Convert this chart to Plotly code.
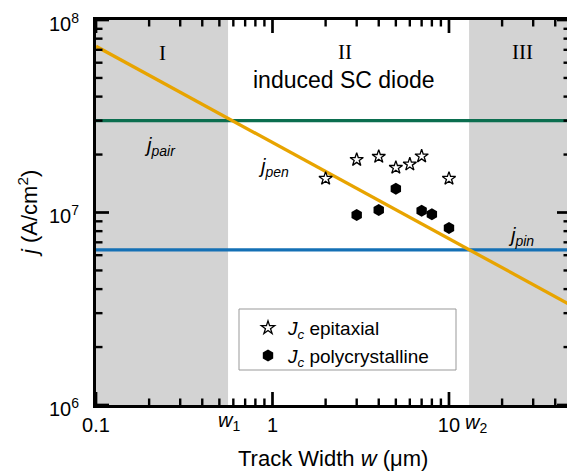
import numpy as np
import plotly.graph_objects as go

# ---- data ----
w1 = 0.56
w2 = 13.0
x_min, x_max = 0.1, 48.5
j_pair = 3.0e7
j_pin = 6.4e6
pen_w = [0.1, 48.5]
pen_j = [7.3e7, 3.32e6]

epi_w = [2, 3, 4, 5, 6, 7, 10]
epi_j = [1.50e7, 1.88e7, 1.95e7, 1.71e7, 1.78e7, 1.96e7, 1.50e7]

poly_w = [3, 4, 5, 7, 8, 10]
poly_j = [9.7e6, 1.03e7, 1.33e7, 1.02e7, 9.8e6, 8.3e6]

x_tickvals = [0.1, 1, 10]
x_ticktext = ["0.1", "1", "10"]
y_tickvals = [1e6, 1e7, 1e8]
y_ticktext = ["10<sup>6</sup>", "10<sup>7</sup>", "10<sup>8</sup>"]

x_minor = [m * d for d in (0.1, 1, 10) for m in range(2, 10) if m * d < x_max]
y_minor = [m * d for d in (1e6, 1e7) for m in range(2, 10)]

FONT = "Liberation Sans, Arial, sans-serif"
SERIF = "Liberation Serif, Times New Roman, serif"
GRAY = "#d3d3d3"
ORANGE = "#E8A400"
GREEN = "#0B6E4F"
BLUE = "#1470B5"

fig = go.Figure()

# shaded regions I and III
for xa, xb in [(x_min, w1), (w2, x_max)]:
    fig.add_trace(go.Scatter(x=[xa, xb, xb, xa, xa], y=[1e6, 1e6, 1e8, 1e8, 1e6],
                             fill="toself", fillcolor=GRAY, line=dict(width=0),
                             mode="lines", showlegend=False, hoverinfo="skip"))

fig.add_trace(go.Scatter(x=[x_min, x_max], y=[j_pair, j_pair], mode="lines",
                         line=dict(color=GREEN, width=3.3), showlegend=False))
fig.add_trace(go.Scatter(x=[x_min, x_max], y=[j_pin, j_pin], mode="lines",
                         line=dict(color=BLUE, width=3.3), showlegend=False))
fig.add_trace(go.Scatter(x=pen_w, y=pen_j, mode="lines",
                         line=dict(color=ORANGE, width=3.3), showlegend=False))

fig.add_trace(go.Scatter(x=epi_w, y=epi_j, mode="markers",
                         name="<i>J</i><sub><i>c</i></sub> epitaxial",
                         marker=dict(symbol="star-open", size=10, color="black",
                                     line=dict(width=1.3, color="black"))))
fig.add_trace(go.Scatter(x=poly_w, y=poly_j, mode="markers",
                         name="<i>J</i><sub><i>c</i></sub> polycrystalline",
                         marker=dict(symbol="hexagon", size=12, color="black")))

# page body has an 8px offset; compensate so the plot lands at the target pixels
OFF = 8
W, H = 575 - OFF, 472 - OFF
L, R, T, B = 96 - OFF, 5, 20 - OFF, 67
pw, ph = W - L - R, H - T - B
xr = [np.log10(x_min), np.log10(x_max)]
yr = [6, 8]


def px(x):
    return (x - OFF - L) / pw


def py(y):
    return (H - B - (y - OFF)) / ph


def dx(v):
    return (np.log10(v) - xr[0]) / (xr[1] - xr[0])


def dy(v):
    return (np.log10(v) - yr[0]) / (yr[1] - yr[0])


def ann(text, x, y, size=20, family=FONT, **kw):
    d = dict(text=text, x=px(x), y=py(y), xref="paper", yref="paper",
             xanchor="center", yanchor="middle", showarrow=False,
             font=dict(family=family, size=size, color="black"))
    d.update(kw)
    return d


annotations = [
    ann("I", 162, 53, 21, SERIF),
    ann("II", 345, 52, 21, SERIF),
    ann("III", 522, 52, 21, SERIF),
    ann("induced SC diode", 344, 80, 23),
    ann("<i>j</i><sub><i>pair</i></sub>", 160, 146),
    ann("<i>j</i><sub><i>pen</i></sub>", 273, 167),
    ann("<i>j</i><sub><i>pin</i></sub>", 521, 236),
    ann("<i>w</i><sub>1</sub>", 229, 421),
    ann("<i>w</i><sub>2</sub>", 476, 423),
    ann("Track Width <i>w</i> (μm)", 333, 458, 22),
    ann("<i>j</i> (A/cm<sup>2</sup>)", 28, 214, 22, textangle=-90),
]
# y tick labels
for v, t in zip(y_tickvals, y_ticktext):
    annotations.append(dict(text=t, x=px(81), xanchor="right", xref="paper",
                            y=np.log10(v), yref="y", yanchor="middle", yshift=-2,
                            showarrow=False, font=dict(family=FONT, size=20, color="black")))

shapes = [
    dict(type="rect", xref="paper", yref="paper", x0=px(239), x1=px(456), y0=py(309), y1=py(370),
         line=dict(color="#999999", width=1), fillcolor="white", layer="above"),
]


# tick marks (inside, mirrored)
def xtick(v, ln, wd):
    f = ln / ph
    for ya, yb in [(0, f), (1, 1 - f)]:
        shapes.append(dict(type="line", xref="x domain", yref="y domain",
                           x0=dx(v), x1=dx(v), y0=ya, y1=yb, layer="above",
                           line=dict(color="black", width=wd)))


def ytick(v, ln, wd):
    f = ln / pw
    for xa, xb in [(0, f), (1, 1 - f)]:
        shapes.append(dict(type="line", xref="x domain", yref="y domain",
                           x0=xa, x1=xb, y0=dy(v), y1=dy(v), layer="above",
                           line=dict(color="black", width=wd)))


for v in x_tickvals:
    xtick(v, 13, 2.7)
for v in x_minor:
    xtick(v, 6.5, 2.4)
for v in y_tickvals:
    ytick(v, 13, 2.7)
for v in y_minor:
    ytick(v, 6.5, 2.4)

axis_common = dict(type="log", showgrid=False, zeroline=False, showline=True,
                   linecolor="black", linewidth=2.6, mirror=True, ticks="",
                   tickmode="array", layer="above traces",
                   tickfont=dict(family=FONT, size=20, color="black"),
                   ticklabeloverflow="allow")

fig.update_layout(
    width=W, height=H, margin=dict(l=L, r=R, t=T, b=B, autoexpand=False),
    paper_bgcolor="white", plot_bgcolor="white",
    xaxis=dict(range=xr, tickvals=x_tickvals, ticktext=x_ticktext, **axis_common),
    yaxis=dict(range=yr, tickvals=y_tickvals, ticktext=y_ticktext,
               showticklabels=False, **axis_common),
    annotations=annotations, shapes=shapes,
    legend=dict(x=px(248), y=py(309), xanchor="left", yanchor="top",
                bgcolor="rgba(0,0,0,0)", borderwidth=0,
                font=dict(family=FONT, size=19, color="black"),
                tracegroupgap=0),
    showlegend=True,
)

fig.write_html("out.html")
